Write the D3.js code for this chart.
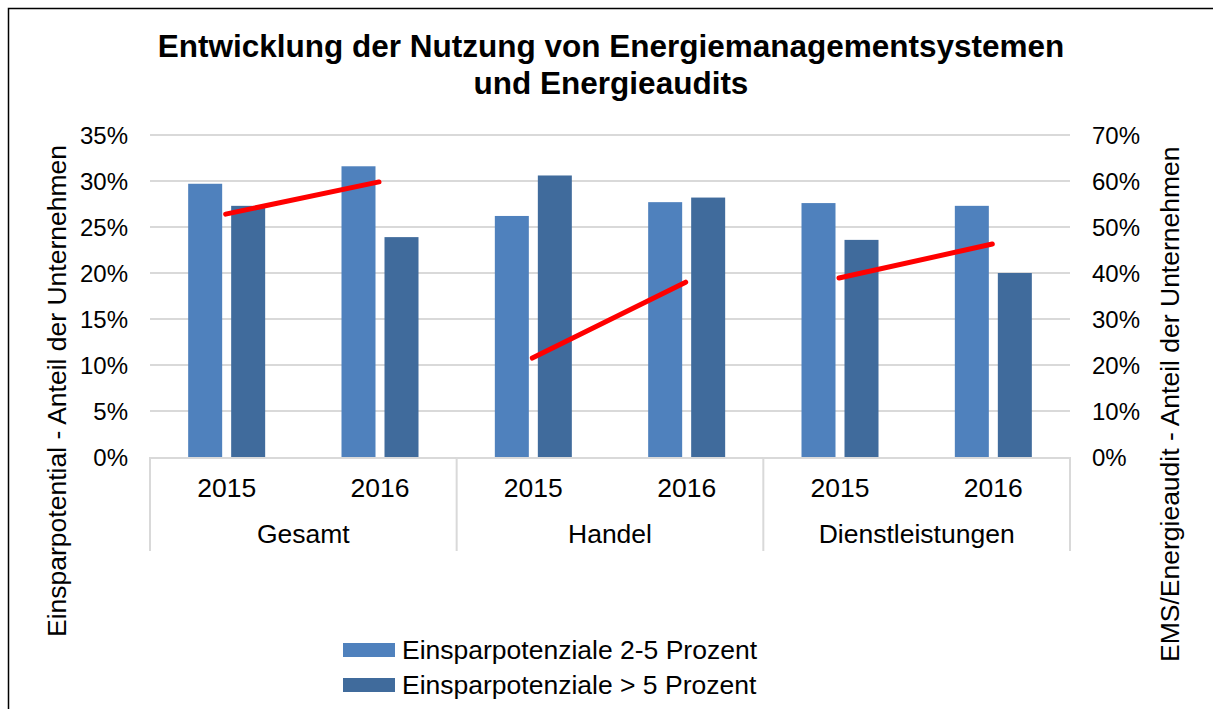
<!DOCTYPE html>
<html>
<head>
<meta charset="utf-8">
<script src="https://cdn.jsdelivr.net/npm/d3@7"></script>
<style>
  body { margin: 0; background: #fff; }
  text { font-family: "Liberation Sans", Arial, sans-serif; fill: #000; }
</style>
</head>
<body>
<svg id="chart" width="1213" height="709"></svg>
<script>
const groups = ["Gesamt", "Handel", "Dienstleistungen"];
const years = ["2015", "2016"];
const seriesNames = ["Einsparpotenziale 2-5 Prozent", "Einsparpotenziale > 5 Prozent"];
const low = [29.7, 31.6, 26.2, 27.7, 27.6, 27.3];   // 2-5 %
const high = [27.3, 23.9, 30.6, 28.2, 23.6, 20.0];  // > 5 %
const ems = [52.8, 59.8, 21.5, 38.0, 38.9, 46.3];   // right axis, red lines
const leftTicks = [0, 5, 10, 15, 20, 25, 30, 35];
const rightTicks = [0, 10, 20, 30, 40, 50, 60, 70];

const colors = ["#4f81bd", "#406b9c"];
const fs = 26.5, tickFs = 24;
const svg = d3.select("#chart");

// frame
svg.append("path")
  .attr("d", "M8.5,709 L8.5,8.5 L1213,8.5")
  .attr("fill", "none").attr("stroke", "#000").attr("stroke-width", 1.5);

const plotL = 150, plotR = 1070, plotT = 135, plotB = 457;

const y = d3.scaleLinear().domain([0, 35]).range([plotB, plotT]);
const y2 = d3.scaleLinear().domain([0, 70]).range([plotB, plotT]);
const xg = d3.scaleBand().domain(groups).range([plotL, plotR]).padding(0);
const xy = d3.scaleBand().domain(years).range([0, xg.bandwidth()]).padding(0);

// gridlines
svg.append("g").selectAll("line").data(leftTicks.slice(1)).join("line")
  .attr("x1", plotL).attr("x2", plotR)
  .attr("y1", d => y(d)).attr("y2", d => y(d))
  .attr("stroke", "#d9d9d9").attr("stroke-width", 2);

// bars
const rows = [];
groups.forEach((g, gi) => years.forEach((yr, yi) => {
  const i = gi * 2 + yi;
  rows.push({ g, yr, i, vals: [low[i], high[i]] });
}));
const barW = 34, gap = 9;
const slotCenter = r => xg(r.g) + xy(r.yr) + xy.bandwidth() / 2;

rows.forEach(r => {
  r.vals.forEach((v, s) => {
    const cx = slotCenter(r);
    const x0 = s === 0 ? cx - gap / 2 - barW : cx + gap / 2;
    svg.append("rect")
      .attr("x", x0).attr("width", barW)
      .attr("y", y(v)).attr("height", y(0) - y(v))
      .attr("fill", colors[s]);
  });
});

// red lines per group
groups.forEach((g, gi) => {
  const pts = rows.filter(r => r.g === g).map(r => [slotCenter(r) - 1, y2(ems[r.i])]);
  svg.append("path")
    .attr("d", d3.line()(pts))
    .attr("stroke", "#ff0000").attr("stroke-width", 5)
    .attr("stroke-linecap", "round").attr("fill", "none");
});

// category axis
const axisG = svg.append("g").attr("stroke", "#d9d9d9").attr("stroke-width", 2);
axisG.append("line").attr("x1", plotL).attr("x2", plotR).attr("y1", plotB + 1).attr("y2", plotB + 1);
[plotL, ...groups.map(g => xg(g) + xg.bandwidth())].forEach(x => {
  axisG.append("line").attr("x1", x).attr("x2", x).attr("y1", plotB).attr("y2", 551);
});

svg.append("g").selectAll("text").data(rows).join("text")
  .attr("x", d => slotCenter(d)).attr("y", 497)
  .attr("text-anchor", "middle").attr("font-size", fs)
  .text(d => d.yr);

svg.append("g").selectAll("text").data(groups).join("text")
  .attr("x", d => xg(d) + xg.bandwidth() / 2).attr("y", 543)
  .attr("text-anchor", "middle").attr("font-size", fs)
  .text(d => d);

// left ticks
svg.append("g").selectAll("text").data(leftTicks).join("text")
  .attr("x", 128).attr("y", d => y(d) + 8.5)
  .attr("text-anchor", "end").attr("font-size", tickFs)
  .text(d => d + "%");

// right ticks
svg.append("g").selectAll("text").data(rightTicks).join("text")
  .attr("x", 1092).attr("y", d => y2(d) + 8.5)
  .attr("text-anchor", "start").attr("font-size", tickFs)
  .text(d => d + "%");

// axis titles
svg.append("text")
  .attr("transform", "translate(66,637) rotate(-90)")
  .attr("text-anchor", "start").attr("font-size", fs)
  .text("Einsparpotential - Anteil der Unternehmen");
svg.append("text")
  .attr("transform", "translate(1179,662) rotate(-90)")
  .attr("text-anchor", "start").attr("font-size", fs)
  .text("EMS/Energieaudit - Anteil der Unternehmen");

// title
const title = svg.append("text").attr("text-anchor", "middle")
  .attr("font-size", 31.5).attr("font-weight", "bold");
title.append("tspan").attr("x", 611).attr("y", 57).text("Entwicklung der Nutzung von Energiemanagementsystemen");
title.append("tspan").attr("x", 611).attr("y", 94).text("und Energieaudits");

// legend
const lg = svg.append("g").selectAll("g").data(seriesNames).join("g")
  .attr("transform", (d, i) => `translate(343,${643 + i * 35})`);
lg.append("rect").attr("width", 52).attr("height", 14).attr("fill", (d, i) => colors[i]);
lg.append("text").attr("x", 59).attr("y", 16).attr("font-size", fs).text(d => d);
</script>
</body>
</html>
